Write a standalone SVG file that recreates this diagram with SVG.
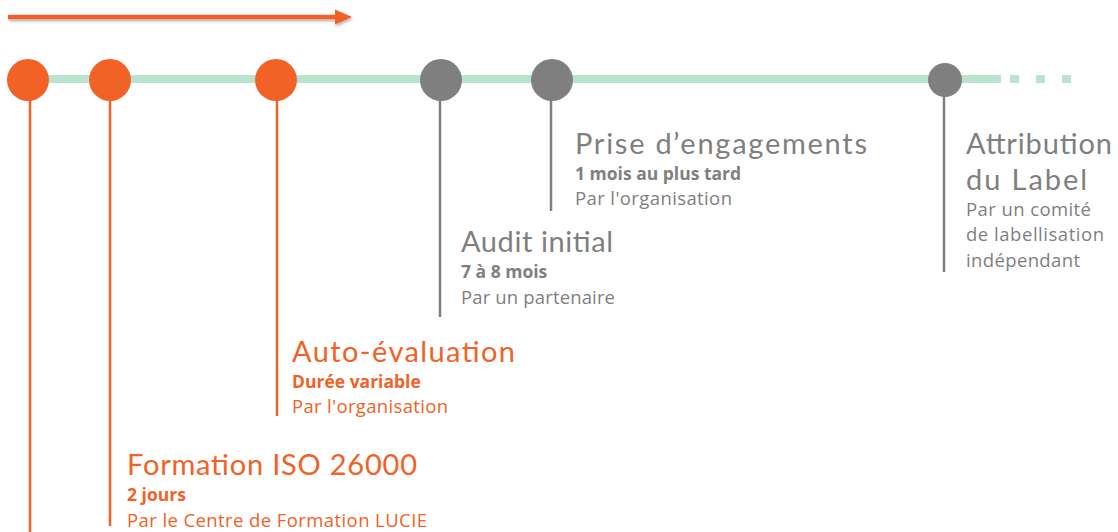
<svg xmlns="http://www.w3.org/2000/svg" width="1118" height="532" viewBox="0 0 1118 532">
<style>
.t{font-family:Lato,"Noto Sans",sans-serif;font-size:29px}
.b{font-family:"Open Sans","Noto Sans",sans-serif;font-size:17.5px;font-weight:700}
.s{font-family:"Open Sans","Noto Sans",sans-serif;font-size:18.5px}
.o{fill:#F26125}
.g{fill:#7F7F7F}
.lo{stroke:#F26125;stroke-width:2.5}
.lg{stroke:#7F7F7F;stroke-width:2.5}
</style>
<defs>
<filter id="sh" x="-5%" y="-100%" width="110%" height="300%">
<feDropShadow dx="1" dy="2" stdDeviation="1.5" flood-color="#000" flood-opacity="0.3"/>
</filter>
</defs>
<g id="progress-arrow" filter="url(#sh)">
<line x1="8" y1="17" x2="338" y2="17" stroke="#F26125" stroke-width="4.5"/>
<polygon points="335,9.5 352,17 335,24.5" fill="#F26125"/>
</g>
<g id="connectors">
<line x1="28" y1="79" x2="1001" y2="79" stroke="#BAE4CE" stroke-width="8"/>
<line x1="1010" y1="79" x2="1075" y2="79" stroke="#BAE4CE" stroke-width="8" stroke-dasharray="9,17"/>
<line class="lo" x1="30" y1="80" x2="30" y2="532"/>
<line class="lo" x1="110" y1="80" x2="110" y2="526"/>
<line class="lo" x1="277" y1="80" x2="277" y2="416"/>
<line class="lg" x1="440" y1="80" x2="440" y2="317"/>
<line class="lg" x1="551" y1="80" x2="551" y2="211"/>
<line class="lg" x1="944" y1="80" x2="944" y2="272"/>
</g>
<g id="start"><circle class="o" cx="28" cy="80" r="21"/></g>
<g id="formation">
<circle class="o" cx="110" cy="80" r="21"/>
<text class="t o" x="127" y="475" textLength="290" lengthAdjust="spacing">Formation ISO 26000</text>
<text class="b o" x="127" y="501">2 jours</text>
<text class="s o" x="127" y="527" textLength="300" lengthAdjust="spacing">Par le Centre de Formation LUCIE</text>
</g>
<g id="auto-evaluation">
<circle class="o" cx="276" cy="80" r="21"/>
<text class="t o" x="292" y="362" textLength="223" lengthAdjust="spacing">Auto-évaluation</text>
<text class="b o" x="292" y="388">Durée variable</text>
<text class="s o" x="292" y="413" textLength="156" lengthAdjust="spacing">Par l'organisation</text>
</g>
<g id="audit">
<circle class="g" cx="441" cy="80" r="21"/>
<text class="t g" x="461" y="252" textLength="152" lengthAdjust="spacing">Audit initial</text>
<text class="b g" x="461" y="278">7 à 8 mois</text>
<text class="s g" x="461" y="304" textLength="154" lengthAdjust="spacing">Par un partenaire</text>
</g>
<g id="engagements">
<circle class="g" cx="552" cy="80" r="21"/>
<text class="t g" x="575" y="154" textLength="292" lengthAdjust="spacing">Prise d’engagements</text>
<text class="b g" x="575" y="180">1 mois au plus tard</text>
<text class="s g" x="575" y="205" textLength="157" lengthAdjust="spacing">Par l'organisation</text>
</g>
<g id="attribution">
<circle class="g" cx="945" cy="80" r="17"/>
<text class="t g" x="966" y="154" textLength="146" lengthAdjust="spacing">Attribution</text>
<text class="t g" x="966" y="190" textLength="121" lengthAdjust="spacing">du Label</text>
<text class="s g" x="966" y="216" textLength="125" lengthAdjust="spacing">Par un comité</text>
<text class="s g" x="966" y="241" textLength="138" lengthAdjust="spacing">de labellisation</text>
<text class="s g" x="966" y="267" textLength="114" lengthAdjust="spacing">indépendant</text>
</g>
</svg>
